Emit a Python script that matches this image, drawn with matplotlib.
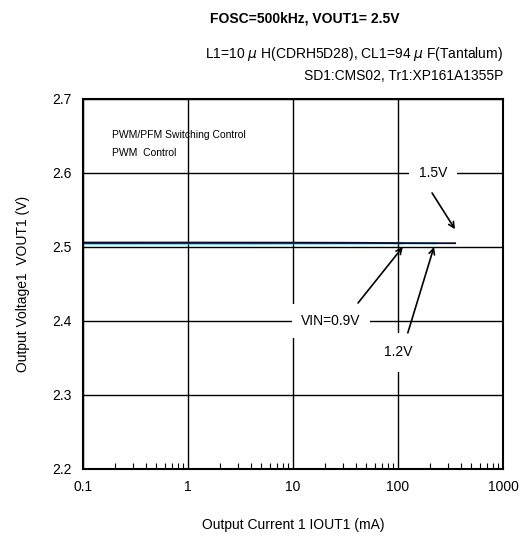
import numpy as np
import matplotlib.pyplot as plt

iout_09 = [0.1, 0.3, 1, 3, 10, 30, 50, 80, 110]
vout_09 = [2.5062, 2.5062, 2.5061, 2.5060, 2.5059, 2.5058, 2.5056, 2.5052, 2.5050]
iout_12 = [0.1, 0.3, 1, 3, 10, 30, 60, 100, 150, 230]
vout_12 = [2.5045, 2.5045, 2.5045, 2.5045, 2.5046, 2.5047, 2.5048, 2.5050, 2.5050, 2.5050]
iout_15 = [0.1, 0.3, 1, 3, 10, 30, 50, 100, 200, 350]
vout_15 = [2.5055, 2.5055, 2.5056, 2.5056, 2.5056, 2.5055, 2.5055, 2.5052, 2.5051, 2.5051]

plt.rcParams['font.family'] = ['Liberation Sans', 'DejaVu Sans']
fig = plt.figure(figsize=(5.23, 5.38), dpi=100)
ax = fig.add_axes([0.1587, 0.1283, 0.8031, 0.6877])

ax.plot(iout_09, vout_09, color='#7a2a7a', lw=1.3)
ax.plot(iout_12, vout_12, color='#19b4c8', lw=1.3)
ax.plot(iout_15, vout_15, color='#0a0a30', lw=1.3)

ax.set_xscale('log')
ax.set_xlim(0.1, 1000)
ax.set_ylim(2.2, 2.7)
ax.set_xticks([0.1, 1, 10, 100, 1000])
ax.set_xticklabels(['0.1', '1', '10', '100', '1000'])
ax.set_yticks([2.2, 2.3, 2.4, 2.5, 2.6, 2.7])
ax.set_yticklabels(['2.2', '2.3', '2.4', '2.5', '2.6', '2.7'])
ax.tick_params(axis='both', which='major', length=0, labelsize=10, pad=8)
ax.tick_params(axis='x', which='minor', direction='in', length=4, width=0.8, top=False)
ax.tick_params(axis='y', which='minor', length=0)
ax.grid(True, which='major', color='black', lw=1.0)
for s in ax.spines.values():
    s.set_linewidth(1.5)

ax.set_xlabel('Output Current 1 IOUT1 (mA)', fontsize=10, labelpad=17)
ax.set_ylabel('Output Voltage1  VOUT1 (V)', fontsize=10, labelpad=16)

ax.text(0.19, 2.651, 'PWM/PFM Switching Control', fontsize=7.5, va='center')
ax.text(0.19, 2.627, 'PWM  Control', fontsize=7.5, va='center')

bb = dict(facecolor='white', edgecolor='none', pad=7)
bb12 = dict(facecolor='white', edgecolor='none', pad=9)
arr = dict(arrowstyle='->', color='black', lw=1.2, shrinkA=0, shrinkB=0)
ax.text(215, 2.6, '1.5V', fontsize=10, ha='center', va='center', bbox=bb, zorder=3)
ax.annotate('', xy=(349, 2.524), xytext=(211, 2.573), arrowprops=arr, zorder=4)
ax.text(23, 2.4, 'VIN=0.9V', fontsize=10, ha='center', va='center', bbox=bb, zorder=3)
ax.annotate('', xy=(111, 2.5), xytext=(41.6, 2.4243), arrowprops=arr, zorder=4)
ax.text(100, 2.358, '1.2V', fontsize=10, ha='center', va='center', bbox=bb12, zorder=3)
ax.annotate('', xy=(220, 2.5), xytext=(124, 2.384), arrowprops=arr, zorder=4)

fig.text(0.583, 0.966, 'FOSC=500kHz, VOUT1= 2.5V', fontsize=10, fontweight='bold',
         ha='center', va='center')
fig.text(0.962, 0.9, 'L1=10 $\\mu$ H(CDRH5D28), CL1=94 $\\mu$ F(Tantalum)', fontsize=10,
         ha='right', va='center')
fig.text(0.962, 0.858, 'SD1:CMS02, Tr1:XP161A1355P', fontsize=10,
         ha='right', va='center')

fig.savefig('out.png', dpi=100)
